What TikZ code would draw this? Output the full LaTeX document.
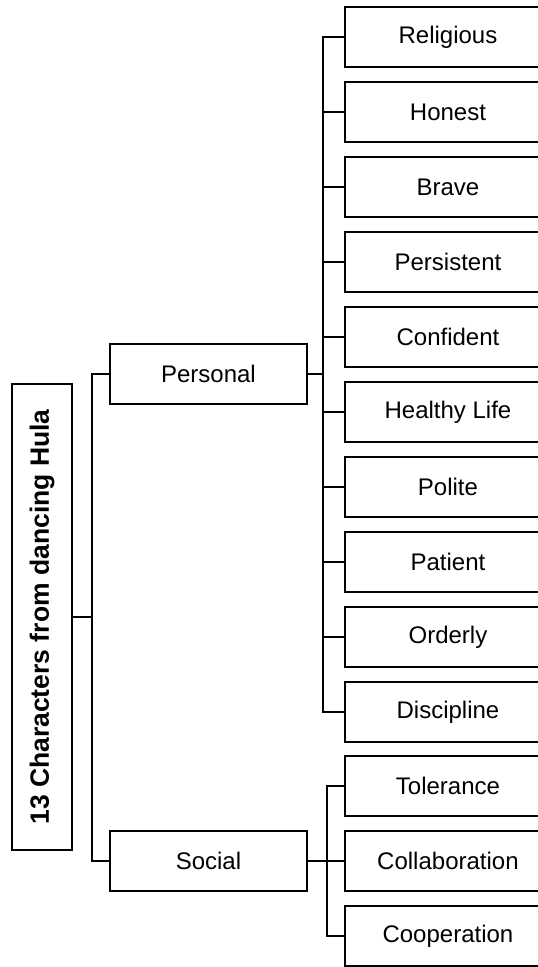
\documentclass[tikz,border=0pt]{standalone}
\usepackage{fontspec}
\setmainfont{Liberation Sans}
\usepackage{tikz}
\usetikzlibrary{calc}
\tikzset{
  leafbox/.style={draw, line width=1.9pt, minimum width=206pt, minimum height=60pt, anchor=west, inner sep=0pt},
  groupbox/.style={draw, line width=1.9pt, minimum width=197pt, minimum height=60pt, anchor=west, inner sep=0pt},
  link/.style={line width=2.3pt},
}
\newcommand{\txt}{\fontsize{24}{28}\selectfont}

\begin{document}
\begin{tikzpicture}[x=1pt, y=-1pt, font=\txt]
		%%%%% START %%%%%
		\useasboundingbox (0, 0) rectangle (538, 967);
		
		\node[draw, line width=1.9pt, minimum width=60pt, minimum height=466pt, inner sep=0pt] (root) at (42, 617)
			{\rotatebox{90}{\fontsize{26.5}{30}\selectfont\bfseries 13 Characters from dancing Hula}};
		
		\node[groupbox] (personal) at (109, 374) {Personal};
		\node[groupbox] (social) at (109, 861) {Social};
		
		\foreach \nm/\lbl [count=\i from 0] in {religious/Religious, honest/Honest, brave/Brave,
			persistent/Persistent, confident/Confident, healthy/Healthy Life, polite/Polite,
			patient/Patient, orderly/Orderly, discipline/Discipline}
			\node[leafbox] (\nm) at (344, {37 + 75*\i}) {\lbl};
		
		\foreach \nm/\lbl [count=\i from 0] in {tolerance/Tolerance, collaboration/Collaboration, cooperation/Cooperation}
			\node[leafbox] (\nm) at (344, {786 + 75*\i}) {\lbl};
		
		% root to groups
		\coordinate (rootbus) at (92, 617);
		\draw[link] (root.east) -- (rootbus);
		\draw[link] (personal.west) -| (rootbus) |- (social.west);
		
		% personal to its leaves
		\coordinate (pbus) at (323, 374);
		\draw[link] (personal.east) -- (pbus);
		\draw[link] (religious.west) -| (pbus) |- (discipline.west);
		\foreach \nm in {honest, brave, persistent, confident, healthy, polite, patient, orderly}
			\draw[link] (\nm.west) -- (\nm.west -| pbus);
		
		% social to its leaves
		\coordinate (sbus) at (327, 861);
		\draw[link] (social.east) -- (sbus);
		\draw[link] (tolerance.west) -| (sbus) |- (cooperation.west);
		\draw[link] (collaboration.west) -- (sbus);
		%%%%% END %%%%%
\end{tikzpicture}
\end{document}
